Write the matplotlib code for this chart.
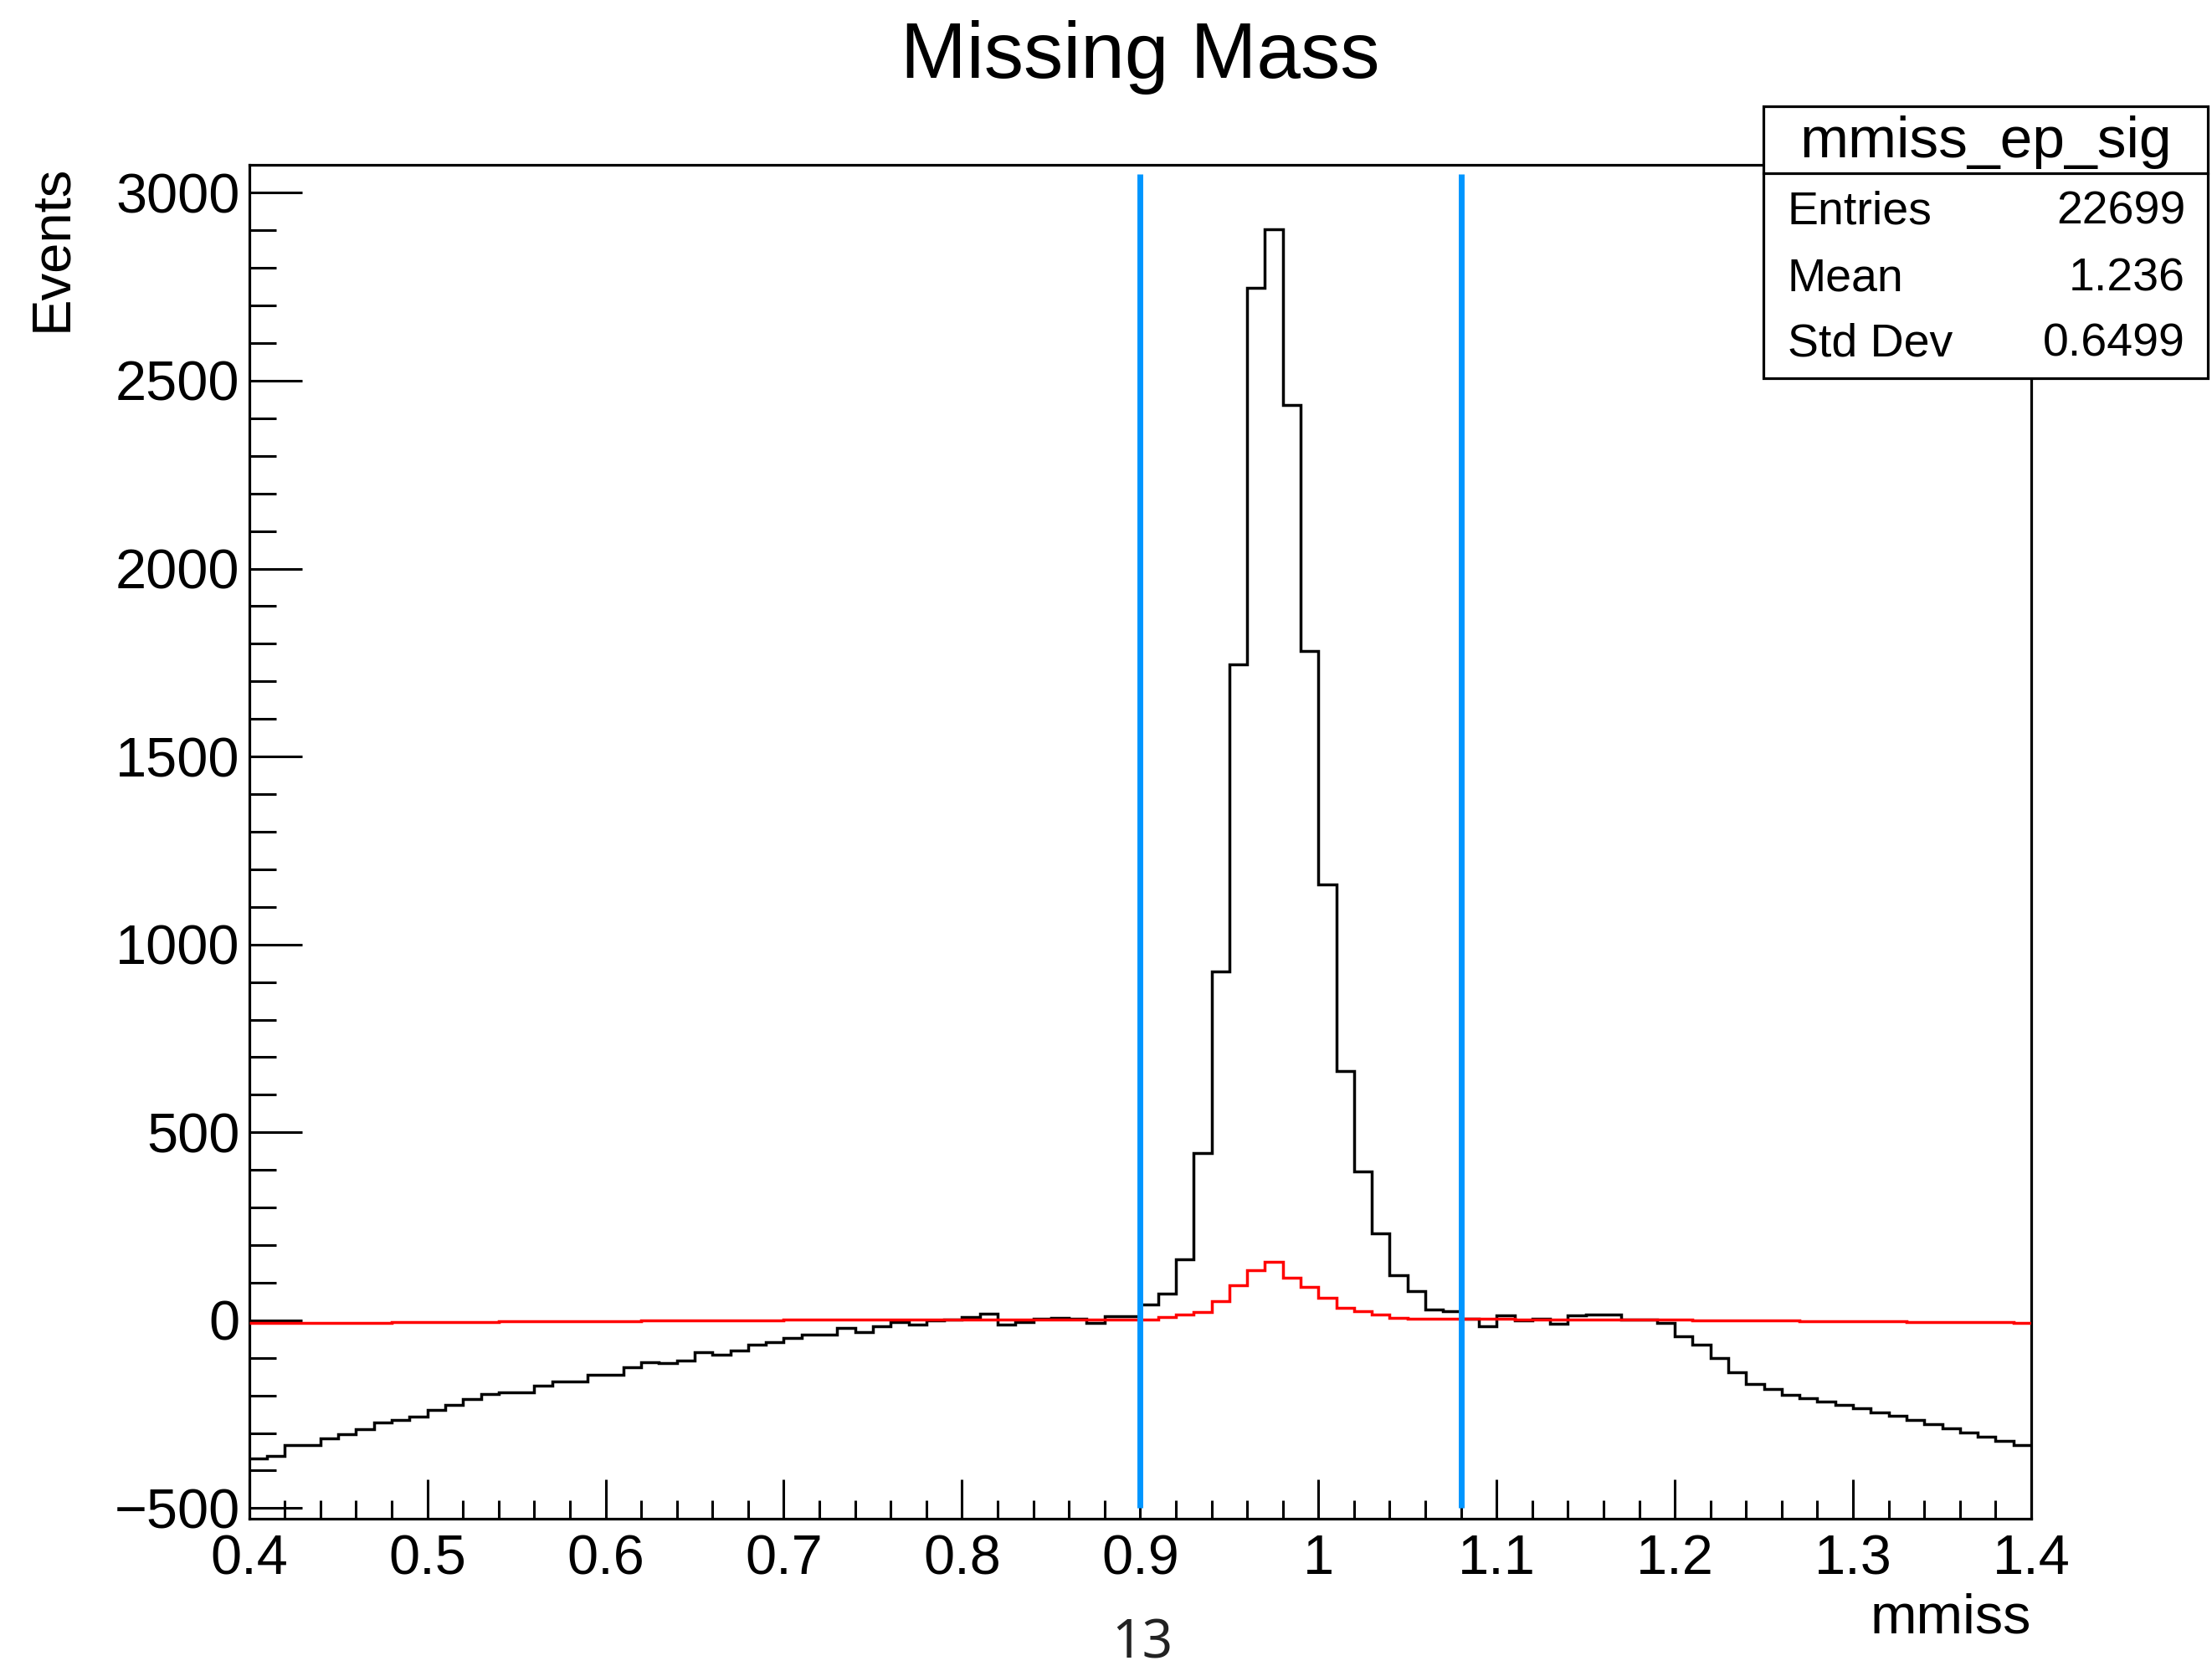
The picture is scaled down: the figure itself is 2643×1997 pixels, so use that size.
import matplotlib
matplotlib.use("Agg")
import matplotlib.pyplot as plt
import numpy as np
from matplotlib.patches import Rectangle
from matplotlib.ticker import FixedLocator, MultipleLocator

plt.rcParams['font.family'] = ['Liberation Sans', 'DejaVu Sans']

# histogram binning: 100 bins between 0.4 and 1.4
bin_lo, bin_hi, n_bins = 0.4, 1.4, 100

# black histogram (mmiss_ep_sig), one value per bin
sig_counts = [
    -367, -361, -332, -332, -314, -304, -289, -273, -265, -257,
    -239, -226, -209, -197, -191, -191, -175, -163, -163, -146,
    -146, -125, -111, -113, -108, -86, -91, -80, -66, -58,
    -48, -39, -39, -20, -32, -17, -5, -11, -1, 2,
    8, 17, -12, -5, 4, 7, 4, -8, 10, 10,
    42, 70, 162, 445, 928, 1746, 2748, 2902, 2435, 1780,
    1160, 663, 396, 231, 120, 78, 28, 25, 4, -16,
    13, -1, 4, -10, 12, 15, 15, 1, 2, -7,
    -42, -65, -100, -139, -169, -182, -199, -208, -217, -226,
    -235, -246, -255, -266, -276, -287, -298, -310, -321, -332,
]

# red histogram
red_counts = [
    -8, -8, -7, -7, -7, -6, -6, -6, -5, -5,
    -5, -4, -4, -4, -3, -3, -3, -3, -2, -2,
    -2, -2, -1, -1, -1, -1, 0, 0, 0, 0,
    1, 1, 1, 1, 1, 1, 2, 2, 2, 2,
    2, 2, 2, 2, 2, 2, 2, 2, 2, 2,
    1, 8, 16, 21, 50, 93, 134, 155, 114, 89,
    59, 33, 23, 16, 6, 3, 3, 3, 3, 3,
    3, 2, 2, 2, 2, 2, 2, 2, 1, 1,
    1, 0, 0, 0, -1, -1, -1, -2, -2, -2,
    -3, -3, -3, -4, -4, -4, -5, -5, -5, -6,
]

cut_values = [0.9, 1.08]
cut_y = [-500, 3050]

x_ticks = [0.4, 0.5, 0.6, 0.7, 0.8, 0.9, 1.0, 1.1, 1.2, 1.3, 1.4]
x_tick_labels = ["0.4", "0.5", "0.6", "0.7", "0.8", "0.9", "1", "1.1", "1.2", "1.3", "1.4"]
y_ticks = [-500, 0, 500, 1000, 1500, 2000, 2500, 3000]
y_tick_labels = ["\u2212500", "0", "500", "1000", "1500", "2000", "2500", "3000"]

stats_name = "mmiss_ep_sig"
stats_keys = ["Entries", "Mean", "Std Dev"]
stats_vals = ["22699", "1.236", "0.6499"]

W, H = 2643, 1997
fig = plt.figure(figsize=(W / 100, H / 100), dpi=100)
ax = fig.add_axes([297.7 / W, 1 - 1815.4 / H, (2427 - 297.7) / W, (1815.4 - 197.2) / H])

edges = np.linspace(bin_lo, bin_hi, n_bins + 1)
ax.stairs(sig_counts, edges, baseline=None, color="black", lw=2.5, zorder=3)
ax.stairs(red_counts, edges, baseline=None, color="#ff0000", lw=2.5, zorder=4)
ax.vlines(cut_values, cut_y[0], cut_y[1], color="#0096ff", lw=5, zorder=5)

ax.set_xlim(bin_lo, bin_hi)
ax.set_ylim(-529, 3074)

ax.xaxis.set_major_locator(FixedLocator(x_ticks))
ax.set_xticklabels(x_tick_labels)
ax.xaxis.set_minor_locator(MultipleLocator(0.02))
ax.yaxis.set_major_locator(FixedLocator(y_ticks))
ax.set_yticklabels(y_tick_labels)
ax.yaxis.set_minor_locator(MultipleLocator(100))

ax.tick_params(which="both", direction="in", top=False, right=False, width=2.2, labelsize=48)
ax.tick_params(axis="x", which="major", length=34, pad=13)
ax.tick_params(axis="x", which="minor", length=16)
ax.tick_params(axis="y", which="major", length=45, pad=8)
ax.tick_params(axis="y", which="minor", length=23)
for s in ax.spines.values():
    s.set_linewidth(2.3)

# titles and labels
fig.text(1362 / W, 1 - 92.7 / H, "Missing Mass", ha="center", va="baseline", fontsize=68)
fig.text(62 / W, 1 - 197 / H, "Events", rotation=90, ha="center", va="top", fontsize=47)
fig.text(2427 / W, 1 - 1952 / H, "mmiss", ha="right", va="baseline", fontsize=48)
fig.text(1365 / W, 1 - 1982 / H, "13", ha="center", va="baseline", fontsize=46,
         color="#222222", family=["Noto Sans", "DejaVu Sans"], fontweight="light")

# stats box
bx0, bx1 = 2107 / W, 2638 / W
by_top, by_sep, by_bot = 1 - 127 / H, 1 - 207 / H, 1 - 452 / H
fig.patches.append(Rectangle((bx0, by_bot), bx1 - bx0, by_top - by_bot, transform=fig.transFigure,
                             facecolor="white", edgecolor="black", lw=2.3, zorder=10))
fig.add_artist(plt.Line2D([bx0, bx1], [by_sep, by_sep], transform=fig.transFigure, color="black", lw=2.3, zorder=11))
fig.text((bx0 + bx1) / 2, 1 - 188 / H, stats_name, ha="center", va="baseline", fontsize=50, zorder=12)
row_base = [268, 347, 425]
for k, v, yb in zip(stats_keys, stats_vals, row_base):
    fig.text(2136 / W, 1 - yb / H, k, ha="left", va="baseline", fontsize=40, zorder=12)
    fig.text(2611 / W, 1 - yb / H, v, ha="right", va="baseline", fontsize=40, zorder=12)

fig.savefig("out.png", dpi=100, facecolor="white")
